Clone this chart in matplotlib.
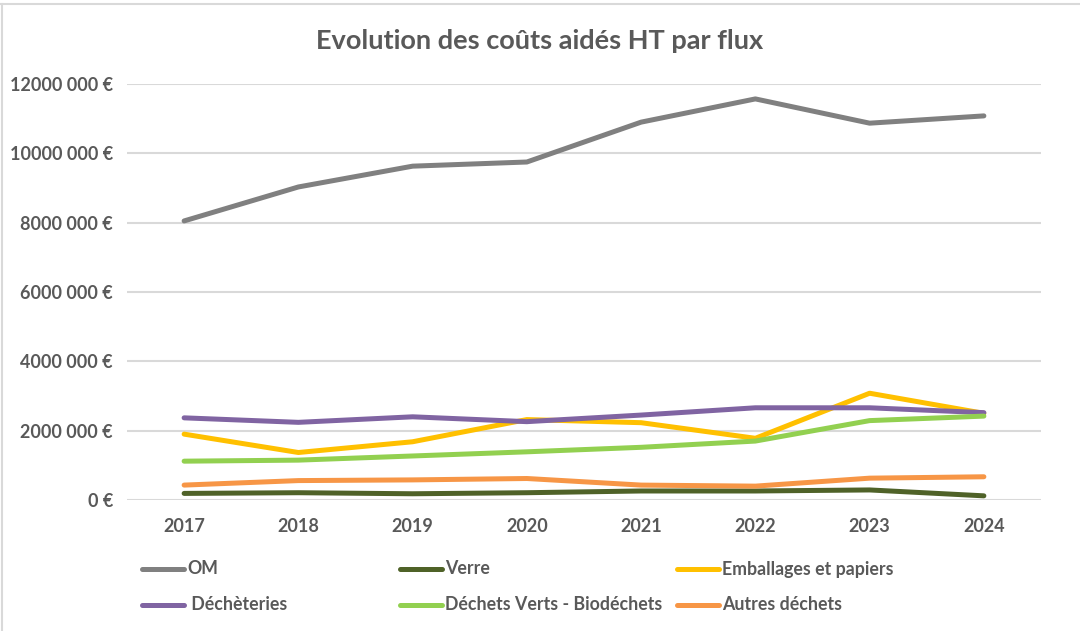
import matplotlib
matplotlib.use('Agg')
import matplotlib.pyplot as plt
from matplotlib.lines import Line2D
from matplotlib.ticker import FuncFormatter

plt.rcParams['font.family'] = ['Lato', 'DejaVu Sans']

years = ['2017', '2018', '2019', '2020', '2021', '2022', '2023', '2024']

om          = [8.05e6, 9.03e6, 9.63e6, 9.75e6, 10.90e6, 11.57e6, 10.87e6, 11.08e6]
verre       = [0.19e6, 0.21e6, 0.18e6, 0.21e6, 0.26e6, 0.26e6, 0.29e6, 0.12e6]
emballages  = [1.90e6, 1.37e6, 1.68e6, 2.32e6, 2.23e6, 1.78e6, 3.08e6, 2.50e6]
decheteries = [2.37e6, 2.24e6, 2.40e6, 2.26e6, 2.45e6, 2.66e6, 2.66e6, 2.52e6]
verts       = [1.12e6, 1.15e6, 1.27e6, 1.39e6, 1.52e6, 1.70e6, 2.29e6, 2.42e6]
autres      = [0.43e6, 0.56e6, 0.58e6, 0.62e6, 0.43e6, 0.40e6, 0.63e6, 0.67e6]

series = [
    ('OM', om, '#808080'),
    ('Verre', verre, '#4F6228'),
    ('Emballages et papiers', emballages, '#FFC000'),
    (' Déchèteries', decheteries, '#8064A2'),
    ('Déchets Verts - Biodéchets', verts, '#92D050'),
    ('Autres déchets', autres, '#F79646'),
]

TXT = '#595959'
LW = 3.6

fig = plt.figure(figsize=(10.8, 6.31), dpi=100)
W, H = 1080, 631
ax = fig.add_axes([127 / W, 1 - 500 / H, (1041 - 127) / W, (500 - 84) / H])

x = list(range(len(years)))
for name, vals, col in series:
    ax.plot(x, vals, color=col, lw=LW, solid_capstyle='round', zorder=3)

ax.set_xlim(-0.5, len(years) - 0.5)
ax.set_ylim(0, 12e6)
ax.set_yticks([0, 2e6, 4e6, 6e6, 8e6, 10e6, 12e6])


def euro(v, pos):
    v = int(round(v))
    if v == 0:
        return '0 €'
    return f"{v // 1000} {v % 1000:03d} €"


ax.yaxis.set_major_formatter(FuncFormatter(euro))
ax.set_xticks(x)
ax.set_xticklabels(years)

ax.grid(axis='y', color='#D9D9D9', lw=1.5)
ax.set_axisbelow(True)
for s in ax.spines.values():
    s.set_visible(False)
ax.tick_params(length=0, colors=TXT, labelsize=13)
ax.tick_params(axis='y', pad=10)
ax.tick_params(axis='x', pad=13)
for lab in ax.get_xticklabels() + ax.get_yticklabels():
    lab.set_fontweight('bold')
    lab.set_color(TXT)

fig.text(540 / W, 1 - 41 / H, 'Evolution des coûts aidés HT par flux',
         ha='center', va='center', fontsize=19.5, fontweight='bold', color=TXT)

# legend, laid out like the excel one (3 columns, 2 rows)
leg_cols = [142, 400, 677]
leg_rows = [569, 605]
for i, (name, vals, col) in enumerate(series):
    r, c = divmod(i, 3)
    x0 = leg_cols[c]
    yy = 1 - leg_rows[r] / H
    fig.add_artist(Line2D([x0 / W, (x0 + 42) / W], [yy, yy], color=col,
                          lw=LW, solid_capstyle='round'))
    fig.text((x0 + 45) / W, yy, name, ha='left', va='center',
             fontsize=12.8, fontweight='bold', color=TXT)

# chart frame
fig.add_artist(Line2D([0, 1], [1 - 4 / H, 1 - 4 / H], color='#D9D9D9', lw=1.5))
fig.add_artist(Line2D([1.5 / W, 1.5 / W], [0, 1 - 4 / H], color='#D9D9D9', lw=1.5))

fig.savefig('out.png', dpi=100)
